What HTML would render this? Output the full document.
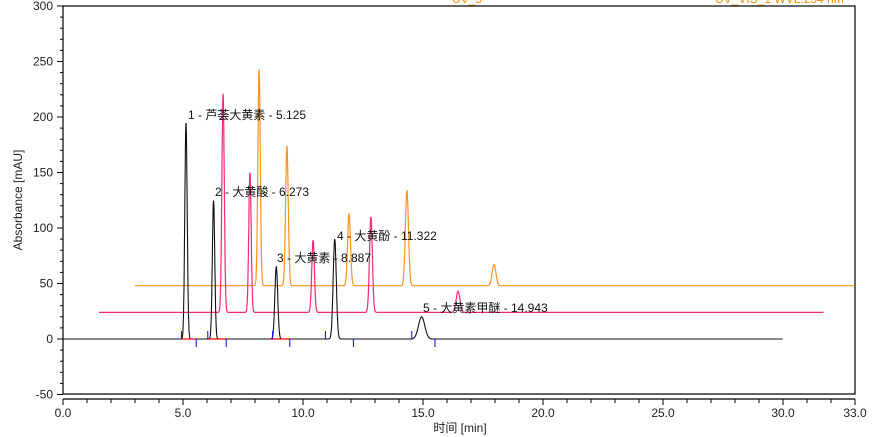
<!DOCTYPE html>
<html><head><meta charset="utf-8"><style>
html,body{margin:0;padding:0;background:#fff}
svg{display:block;font-family:"Liberation Sans","Noto Sans CJK SC",sans-serif}
</style></head><body>
<svg id="s" width="888" height="437" viewBox="0 0 888 437" xmlns="http://www.w3.org/2000/svg">
<text x="452" y="3" font-size="12" fill="#f28c00">UV_3</text>
<text x="715" y="3" font-size="12" fill="#f28c00">UV_VIS_1 WVL:254 nm</text>
<rect x="63" y="6" width="792" height="388" fill="none" stroke="#000" stroke-width="1.2"/>
<line x1="63" y1="399" x2="855" y2="399" stroke="#000" stroke-width="1.2"/>
<g id="ax" font-size="12" fill="#222"></g>
<g id="tr"></g>
<g font-size="12" fill="#111">
<text x="188" y="119">1 - 芦荟大黄素 - 5.125</text>
<text x="215" y="196">2 - 大黄酸 - 6.273</text>
<text x="277" y="262">3 - 大黄素 - 8.887</text>
<text x="337" y="240">4 - 大黄酚 - 11.322</text>
<text x="423" y="312">5 - 大黄素甲醚 - 14.943</text>
</g>
<text x="460" y="432" font-size="12" text-anchor="middle" fill="#222">时间 [min]</text>
<text transform="translate(22,200) rotate(-90)" font-size="12" text-anchor="middle" fill="#222">Absorbance [mAU]</text>
</svg>
<script>
var NS="http://www.w3.org/2000/svg";
function X(t){return 63+t*24}
function Y(v){return 339-v*1.11}
function el(p,n,a,txt){var e=document.createElementNS(NS,n);for(var k in a)e.setAttribute(k,a[k]);if(txt!==undefined)e.textContent=txt;p.appendChild(e);return e}
var ax=document.getElementById("ax"),tr=document.getElementById("tr");
for(var v=-50;v<=300;v+=10){var y=Y(v);var maj=v%50==0;el(ax,"line",{x1:maj?57:60,y1:y,x2:63,y2:y,stroke:"#000"});if(maj)el(ax,"text",{x:53,y:y+4,"text-anchor":"end"},String(v));}
for(var t=0;t<=33;t++){var x=X(t);var maj=t%5==0||t==33;el(ax,"line",{x1:x,y1:399,x2:x,y2:maj?405:403,stroke:"#000"});if(maj)el(ax,"text",{x:x,y:417,"text-anchor":"middle"},t.toFixed(1));}
function trace(a,b,base,peaks,col,w){var d="";for(var t=a;t<=b;t+=0.01){var v=base;peaks.forEach(function(p){v+=p[1]*Math.exp(-Math.pow((t-p[0])/p[2],2)/2)});d+=(d?"L":"M")+X(t).toFixed(1)+" "+Y(v).toFixed(1);}el(tr,"path",{d:d,fill:"none",stroke:col,"stroke-width":w});}
trace(3.0,33,48,[[8.17,195,0.05],[9.33,126,0.055],[11.92,65,0.06],[14.33,86,0.065],[17.96,19,0.08]],"#f7941d",1.2);
trace(1.5,31.7,24,[[6.67,197,0.05],[7.79,126,0.05],[10.42,65,0.055],[12.83,86,0.06],[16.46,19,0.08]],"#f0287a",1.2);
trace(0,30,0,[[5.125,195,0.05],[6.273,125,0.05],[8.887,65,0.06],[11.322,90,0.065],[14.943,20,0.13]],"#111",1.1);
[[4.95,5.55],[6.05,6.8],[8.65,9.45]].forEach(function(s){el(tr,"line",{x1:X(s[0]),y1:339,x2:X(s[1]),y2:339,stroke:"#e00","stroke-width":1.2})});
[5.1,6.2,8.9,11.1,14.7].forEach(function(t){el(tr,"line",{x1:X(t)-4,y1:339,x2:X(t)-4,y2:331,stroke:"#00f"})});
[5.55,6.8,9.45,12.1,15.5].forEach(function(t){el(tr,"line",{x1:X(t),y1:339,x2:X(t),y2:347,stroke:"#00f"})});
</script>
</body></html>
